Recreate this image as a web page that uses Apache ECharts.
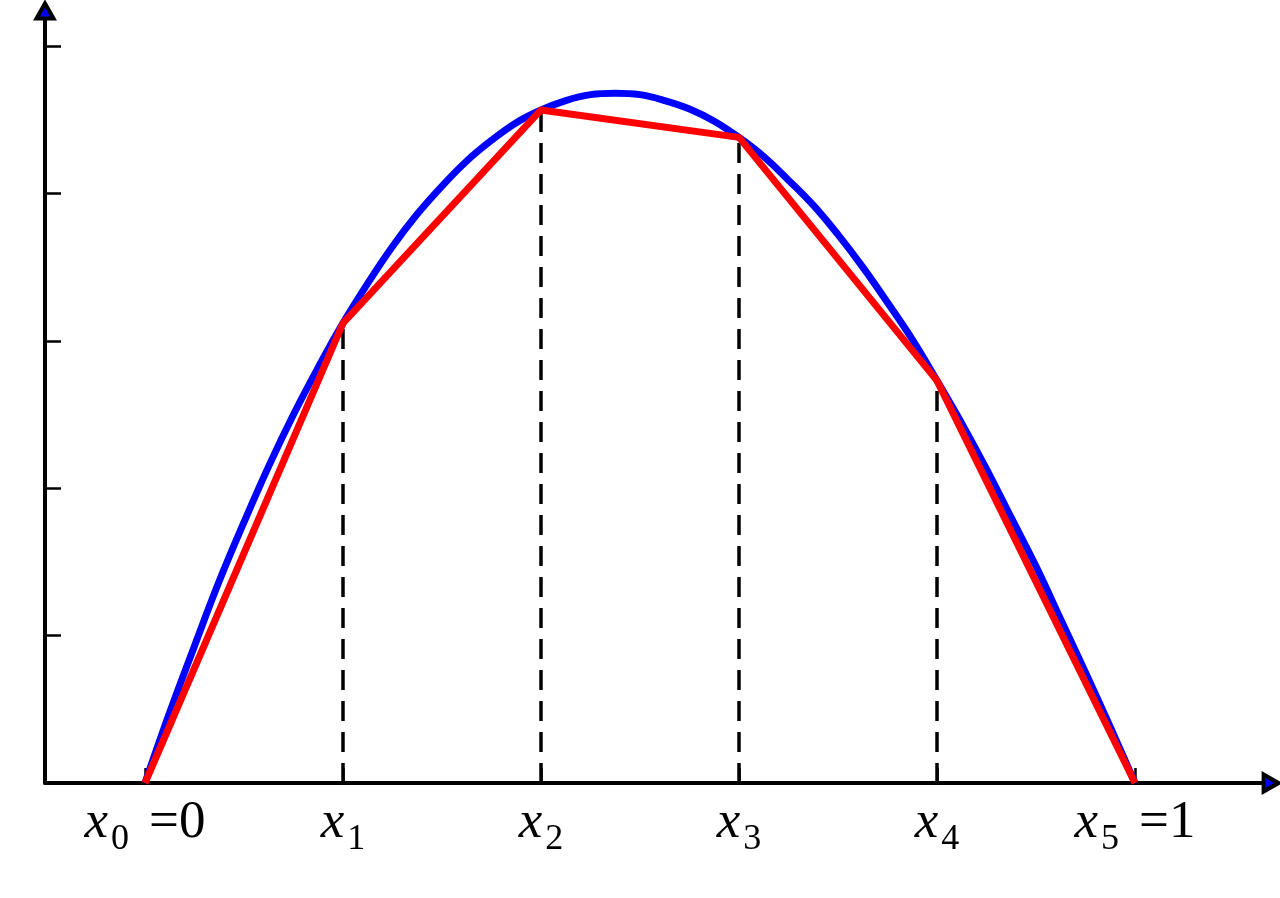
<!DOCTYPE html>
<html>
<head>
<meta charset="utf-8">
<script src="https://cdn.jsdelivr.net/npm/echarts@6/dist/echarts.min.js"></script>
<style>
  html, body { margin: 0; padding: 0; background: #fff; }
  #chart { width: 1280px; height: 898px; }
</style>
</head>
<body>
<div id="chart"></div>
<script>
// ---- data ----
const xTicks = [0, 0.2, 0.4, 0.6, 0.8, 1];
const tickSubs = ['0', '1', '2', '3', '4', '5'];
const tickSuffix = ['=0', '', '', '', '', '=1'];
const nodeY = [0, 3.12, 4.566, 4.38, 2.73, 0];
const curveX = [0, 0.025, 0.05, 0.075, 0.1, 0.125, 0.15, 0.175, 0.2, 0.225, 0.25, 0.275, 0.3, 0.325, 0.35, 0.375, 0.4, 0.425, 0.45, 0.475, 0.5,
                0.525, 0.55, 0.575, 0.6, 0.625, 0.65, 0.675, 0.7, 0.725, 0.75, 0.775, 0.8, 0.825, 0.85, 0.875, 0.9, 0.925, 0.95, 0.975, 1];
const curveY = [0, 0.48, 0.93, 1.37, 1.77, 2.15, 2.50, 2.82, 3.12, 3.39, 3.64, 3.86, 4.05, 4.22, 4.36, 4.48, 4.566, 4.63, 4.67, 4.68, 4.67,
                4.63, 4.573, 4.49, 4.38, 4.25, 4.09, 3.92, 3.72, 3.50, 3.26, 3.01, 2.73, 2.44, 2.13, 1.80, 1.47, 1.11, 0.75, 0.38, 0];
const yTicks = [1, 2, 3, 4, 5];

// axis ranges
const xMin = -0.10101, xMax = 1.13737;
const yMin = 0, yMax = 5.2375;

const curveData = curveX.map((x, i) => [x, curveY[i]]);
const nodeData = xTicks.map((x, i) => [x, nodeY[i]]);
const dashSeries = [];
for (let i = 0; i < xTicks.length; i++) {
  if (nodeY[i] > 0) {
    dashSeries.push({
      type: 'line',
      data: [[xTicks[i], 0], [xTicks[i], nodeY[i]]],
      symbol: 'none',
      silent: true,
      z: 1,
      lineStyle: { color: '#000', width: 3.5, type: [20, 11] }
    });
  }
}

const chart = echarts.init(document.getElementById('chart'), null, { renderer: 'canvas' });
chart.setOption({
  animation: false,
  backgroundColor: '#fff',
  grid: { left: 45, right: 9, top: 11, bottom: 115, containLabel: false, outerBoundsMode: 'none' },
  xAxis: {
    type: 'value',
    min: xMin, max: xMax,
    splitLine: { show: false },
    axisLine: { onZero: false, lineStyle: { color: '#000', width: 4 } },
    axisTick: { show: true, inside: true, length: 15, customValues: xTicks, lineStyle: { color: '#000', width: 2.5 } },
    axisLabel: {
      show: true,
      customValues: xTicks,
      margin: 14,
      formatter: function (v) {
        let idx = xTicks.findIndex(t => Math.abs(t - v) < 1e-6);
        if (idx < 0) return '';
        let s = '{i|x}{s|' + tickSubs[idx] + '}';
        if (tickSuffix[idx]) s += '{e|' + tickSuffix[idx] + '}';
        return s;
      },
      rich: {
        i: { fontFamily: 'Liberation Serif', fontStyle: 'italic', fontSize: 53, lineHeight: 60, verticalAlign: 'top', color: '#000' },
        s: { fontFamily: 'Liberation Serif', fontSize: 36, lineHeight: 60, verticalAlign: 'top', color: '#000', padding: [25, 0, 0, 3] },
        e: { fontFamily: 'Liberation Serif', fontSize: 53, lineHeight: 60, verticalAlign: 'top', color: '#000', padding: [0, 0, 0, 20] }
      }
    }
  },
  yAxis: {
    type: 'value',
    min: yMin, max: yMax,
    splitLine: { show: false },
    axisLine: { onZero: false, lineStyle: { color: '#000', width: 4 } },
    axisTick: { show: true, inside: true, length: 16, customValues: yTicks, lineStyle: { color: '#000', width: 2.5 } },
    axisLabel: { show: false }
  },
  series: [
    ...dashSeries,
    {
      type: 'line',
      data: curveData,
      smooth: 0.4,
      symbol: 'none',
      z: 3,
      lineStyle: { color: '#0000ff', width: 7 }
    },
    {
      type: 'line',
      data: nodeData,
      symbol: 'none',
      z: 4,
      lineStyle: { color: '#ff0000', width: 7 }
    },
    {
      type: 'scatter',
      clip: false,
      silent: true,
      z: 10,
      data: [
        { value: [xMax, yMin], symbolRotate: -90 },
        { value: [xMin, yMax], symbolRotate: 0 }
      ],
      symbol: 'triangle',
      symbolSize: [17, 15],
      itemStyle: { color: '#0000ff', borderColor: '#000', borderWidth: 4, opacity: 1 }
    }
  ]
});
</script>
</body>
</html>
